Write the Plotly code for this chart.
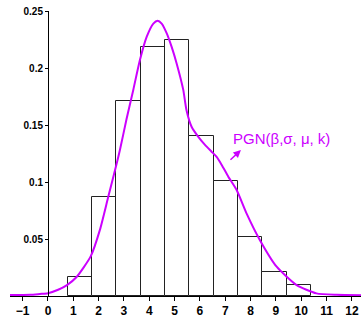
import plotly.graph_objects as go

# Histogram bins (left edges) and heights
bin_left = [0.78, 1.74, 2.70, 3.66, 4.62, 5.58, 6.54, 7.50, 8.46, 9.42]
bin_width = 0.96
bin_height = [0.0167, 0.0868, 0.171, 0.218, 0.225, 0.1406, 0.101, 0.052, 0.021, 0.0094]

# Fitted PGN density curve
curve_x = [-1.5, -0.7, -0.32, 0.0, 0.4, 0.75, 1.13, 1.69, 2.05, 2.38, 2.71, 2.84,
           3.1, 3.37, 3.63, 3.9, 4.16, 4.33, 4.49, 4.69, 4.88, 5.08, 5.34, 5.47,
           5.67, 5.93, 6.2, 6.46, 6.66, 6.86, 7.12, 7.45, 7.84, 8.37, 9.03, 9.82,
           10.6, 11.4, 12.36]
curve_y = [0.0008, 0.001, 0.0018, 0.0025, 0.0055, 0.0096, 0.0167, 0.035, 0.058, 0.087, 0.116, 0.128,
           0.155, 0.181, 0.207, 0.2275, 0.239, 0.2415, 0.239, 0.2304, 0.2187, 0.204, 0.181, 0.163,
           0.1485, 0.1398, 0.1325, 0.1266, 0.122, 0.115, 0.1047, 0.093, 0.0725, 0.049, 0.0257, 0.0096,
           0.0023, 0.001, 0.0006]

x_ticks = list(range(-1, 13))
y_ticks = [0.05, 0.1, 0.15, 0.2, 0.25]
y_tick_text = ["0.05", "0.1", "0.15", "0.2", "0.25"]
label_text = "PGN(β,σ, μ, k)"

purple = "#CC00FF"
x_range = [-1.5, 12.36]

fig = go.Figure()
fig.add_trace(go.Bar(
    x=[l + bin_width / 2 for l in bin_left], y=bin_height, width=bin_width,
    marker=dict(color="white", line=dict(color="#222222", width=1)),
    hoverinfo="skip", showlegend=False,
))
fig.add_trace(go.Scatter(
    x=curve_x, y=curve_y, mode="lines",
    line=dict(color=purple, width=2, shape="spline", smoothing=0.6),
    showlegend=False,
))

fig.add_annotation(x=9.22, y=0.1386, text=label_text, showarrow=False,
                   font=dict(family="Liberation Sans, Arial", size=15, color=purple))
fig.add_annotation(x=7.62, y=0.128, text="", showarrow=True, ax=-12, ay=11,
                   arrowhead=2, arrowsize=1, arrowwidth=1.5, arrowcolor=purple)

y_pos = (0 - x_range[0]) / (x_range[1] - x_range[0])
fig.update_layout(
    width=361, height=328,
    margin=dict(l=10, r=0, t=11, b=32),
    paper_bgcolor="white", plot_bgcolor="white",
    bargap=0,
    xaxis=dict(range=x_range, tickvals=x_ticks, showgrid=False, zeroline=False,
               automargin=False,
               showline=True, linecolor="black", linewidth=1,
               ticks="outside", ticklen=4, tickcolor="black",
               tickfont=dict(family="Liberation Sans, Arial", size=12, color="black", weight="bold")),
    yaxis=dict(range=[0, 0.25], tickvals=y_ticks, ticktext=y_tick_text,
               anchor="free", position=y_pos, automargin=False,
               showgrid=False, zeroline=False,
               showline=True, linecolor="black", linewidth=1,
               ticks="outside", ticklen=3, tickcolor="black",
               tickfont=dict(family="Liberation Sans, Arial", size=10, color="black", weight="bold")),
)

fig.write_html("out.html", config={"displayModeBar": False},
               post_script="document.body.style.margin='0';document.body.style.padding='0';")
